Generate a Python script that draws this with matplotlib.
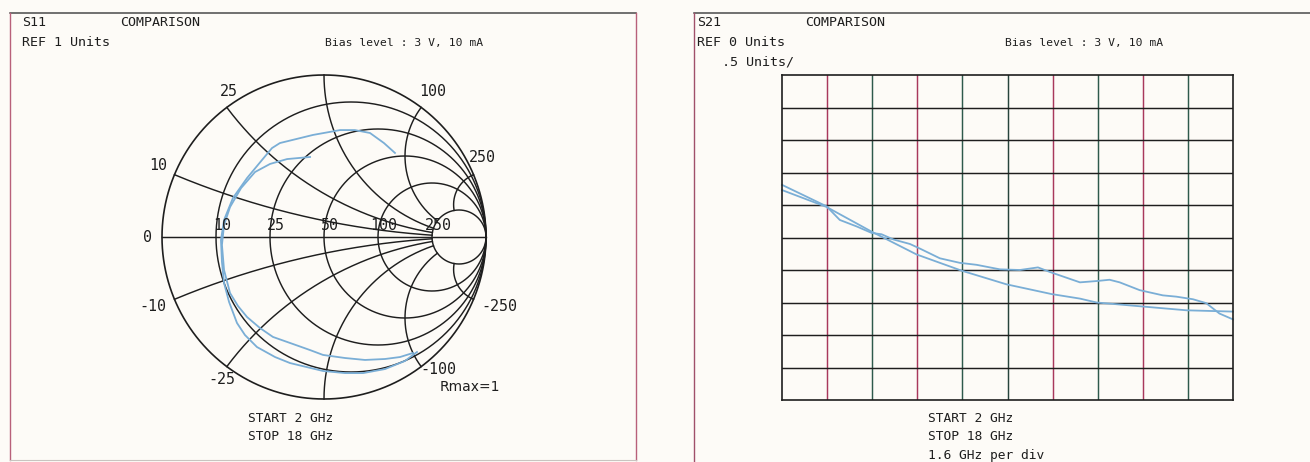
import numpy as np
import matplotlib
matplotlib.use("Agg")
import matplotlib.pyplot as plt
from matplotlib.lines import Line2D

# ---------------- data ----------------
# S11 traces, reflection coefficient (real, imaginary), 2-18 GHz
s11_a_re = [0.438, 0.370, 0.284, 0.191, 0.099, -0.068, -0.272, -0.321, -0.383, -0.475,
            -0.562, -0.617, -0.636, -0.630, -0.617, -0.586, -0.537, -0.488, -0.414, -0.302,
            -0.210, -0.006, 0.130, 0.241, 0.377, 0.500, 0.574]
s11_a_im = [0.519, 0.580, 0.642, 0.660, 0.660, 0.630, 0.580, 0.549, 0.475, 0.364,
            0.241, 0.105, -0.019, -0.154, -0.284, -0.401, -0.531, -0.605, -0.679, -0.741,
            -0.778, -0.827, -0.840, -0.840, -0.815, -0.765, -0.710]
s11_b_re = [-0.086, -0.228, -0.333, -0.426, -0.512, -0.580, -0.617, -0.630, -0.617, -0.580,
            -0.531, -0.475, -0.395, -0.315, -0.210, -0.086, -0.006, 0.130, 0.253, 0.377,
            0.469, 0.549]
s11_b_im = [0.494, 0.481, 0.451, 0.401, 0.302, 0.185, 0.074, -0.049, -0.204, -0.346,
            -0.426, -0.494, -0.562, -0.617, -0.654, -0.698, -0.728, -0.747, -0.759, -0.753,
            -0.741, -0.716]

# S21 traces, linear magnitude (units) versus frequency (GHz)
s21_a_freq = [2.0, 3.58, 4.05, 4.65, 5.18, 5.53, 5.95, 6.54, 6.89, 7.60, 8.31, 8.90, 9.73,
              10.44, 11.08, 11.50, 12.57, 13.16, 13.62, 13.98, 14.69, 15.51, 15.99, 16.58,
              17.05, 17.52, 18.0]
s21_a_mag = [3.31, 2.98, 2.77, 2.67, 2.57, 2.55, 2.47, 2.40, 2.33, 2.18, 2.11, 2.08, 2.01,
             2.00, 2.04, 1.97, 1.81, 1.83, 1.85, 1.81, 1.69, 1.61, 1.59, 1.55, 1.49, 1.33, 1.24]
s21_b_freq = [2.0, 3.58, 5.18, 6.77, 8.37, 9.96, 11.56, 12.57, 13.16, 14.75, 16.35, 18.0]
s21_b_mag = [3.23, 2.97, 2.59, 2.24, 1.99, 1.78, 1.63, 1.56, 1.50, 1.44, 1.38, 1.36]

# Smith grid values (normalised) and their ohm labels (Z0 = 50)
smith_r = [0.2, 0.5, 1.0, 2.0, 5.0]
smith_r_labels = ["10", "25", "50", "100", "250"]
smith_x = [0.2, 0.5, 1.0, 2.0, 5.0]
smith_x_labels = {0.2: "10", 0.5: "25", 2.0: "100", 5.0: "250",
                  -0.2: "-10", -0.5: "-25", -2.0: "-100", -5.0: "-250"}

f_start, f_stop, f_step = 2.0, 18.0, 1.6
ref_value, units_per_div, n_div = 0.0, 0.5, 10

# ---------------- styling ----------------
W, H = 1310, 462
BG = "#fdfbf7"
INK = "#1e1e1e"
TRACE = "#7aaed6"
MONO = "DejaVu Sans Mono"

fig = plt.figure(figsize=(W / 100, H / 100), dpi=100, facecolor=BG)


def fx(x):
    return x / W


def fy(y):
    return 1 - y / H


def ftext(x, y, s, size=9.6, ha="left", family=MONO, color=INK):
    fig.text(fx(x), fy(y), s, fontsize=size, ha=ha, va="center",
             family=family, color=color)


def fline(xs, ys, color, lw=1.0):
    fig.add_artist(Line2D([fx(v) for v in xs], [fy(v) for v in ys],
                          transform=fig.transFigure, color=color, lw=lw))


# panel frames
fline([10, 636], [12.5, 12.5], "#4a4a4a", 1.1)
fline([10, 10], [12.5, 460], "#b8607a", 1.0)
fline([636, 636], [12.5, 460], "#b8607a", 1.0)
fline([10, 636], [460, 460], "#c9c4c0", 0.8)
fline([694, 1310], [12.5, 12.5], "#4a4a4a", 1.1)
fline([694, 694], [12.5, 462], "#a0506a", 1.0)

# ---------------- Smith chart (S11) ----------------
cx, cy, R = 324, 237, 162
ax_s = fig.add_axes([fx(cx - 1.2 * R), fy(cy + 1.1 * R), 2.5 * R / W, 2.2 * R / H])
ax_s.set_xlim(-1.2, 1.3)
ax_s.set_ylim(-1.1, 1.1)
ax_s.set_aspect("equal")
ax_s.axis("off")
ax_s.patch.set_alpha(0)

GRID_LW = 1.05
t = np.linspace(0, 2 * np.pi, 721)
ax_s.plot(np.cos(t), np.sin(t), color=INK, lw=1.2)
ax_s.plot([-1, 1], [0, 0], color=INK, lw=GRID_LW)
for r in smith_r:
    c0, rad = r / (1 + r), 1 / (1 + r)
    ax_s.plot(c0 + rad * np.cos(t), rad * np.sin(t), color=INK, lw=GRID_LW)

# reactance arcs run from the outer circle to the r = 5 circle
r_path = np.linspace(0, smith_r[-1], 400)
for xv in smith_x:
    for sgn in (1, -1):
        z = r_path + 1j * sgn * xv
        g = (z - 1) / (z + 1)
        ax_s.plot(g.real, g.imag, color=INK, lw=GRID_LW)

# resistance labels along the real axis
for r, lab in zip(smith_r, smith_r_labels):
    g = (r - 1) / (r + 1)
    ax_s.annotate(lab, (g, 0), xytext=(6, 12), textcoords="offset pixels",
                  ha="center", va="center", fontsize=10.8, family=MONO, color=INK)

# reactance labels at the rim
x_label_offsets = {0.2: (-16, 9), 0.5: (2, 16), 2.0: (11, 16), 5.0: (9, 17),
                   -0.2: (-22, -7), -0.5: (-5, -13), -2.0: (17, -3), -5.0: (26, -7)}
for xv, lab in smith_x_labels.items():
    z = 1j * xv
    g = (z - 1) / (z + 1)
    ax_s.annotate(lab, (g.real, g.imag), xytext=x_label_offsets[xv],
                  textcoords="offset pixels", ha="center", va="center",
                  fontsize=10.8, family=MONO, color=INK)
ax_s.annotate("0", (-1, 0), xytext=(-15, 0), textcoords="offset pixels",
              ha="center", va="center", fontsize=10.8, family=MONO, color=INK)

ax_s.plot(s11_a_re, s11_a_im, color=TRACE, lw=1.3)
ax_s.plot(s11_b_re, s11_b_im, color=TRACE, lw=1.3)

ftext(440, 387, "Rmax=1", size=10, family="DejaVu Sans")

ftext(22, 23, "S11")
ftext(120, 23, "COMPARISON")
ftext(22, 43, "REF 1 Units")
ftext(325, 43, "Bias level : 3 V, 10 mA", size=8.2)
ftext(248, 418, "START 2 GHz", size=9.3)
ftext(248, 437, "STOP 18 GHz", size=9.3)

# ---------------- rectangular grid (S21) ----------------
gx0, gx1, gy0, gy1 = 782, 1233, 75, 400
ax_r = fig.add_axes([fx(gx0), fy(gy1), (gx1 - gx0) / W, (gy1 - gy0) / H])
y_top = ref_value + units_per_div * n_div
ax_r.set_xlim(f_start, f_stop)
ax_r.set_ylim(ref_value, y_top)
ax_r.set_xticks([])
ax_r.set_yticks([])
ax_r.patch.set_alpha(0)
for sp in ax_r.spines.values():
    sp.set_color(INK)
    sp.set_linewidth(1.2)

x_lines = np.linspace(f_start, f_stop, n_div + 1)[1:-1]
v_colors = ["#a8385c", "#2e5a4c", "#a8385c", "#2e5a4c", "#26443c",
            "#a8385c", "#2e5a4c", "#a8385c", "#2e5a4c"]
for xv, col in zip(x_lines, v_colors):
    ax_r.axvline(xv, color=col, lw=1.05)
for yv in np.linspace(ref_value, y_top, n_div + 1)[1:-1]:
    ax_r.axhline(yv, color=INK, lw=1.05)

ax_r.plot(s21_a_freq, s21_a_mag, color=TRACE, lw=1.3, clip_on=False)
ax_r.plot(s21_b_freq, s21_b_mag, color=TRACE, lw=1.3, clip_on=False)

ftext(697, 23, "S21")
ftext(805, 23, "COMPARISON")
ftext(697, 43, "REF 0 Units")
ftext(722, 62, ".5 Units/")
ftext(1005, 43, "Bias level : 3 V, 10 mA", size=8.2)
ftext(928, 418, "START 2 GHz", size=9.3)
ftext(928, 437, "STOP 18 GHz", size=9.3)
ftext(928, 455, "1.6 GHz per div", size=9.3)

fig.savefig("out.png", dpi=100, facecolor=BG)
